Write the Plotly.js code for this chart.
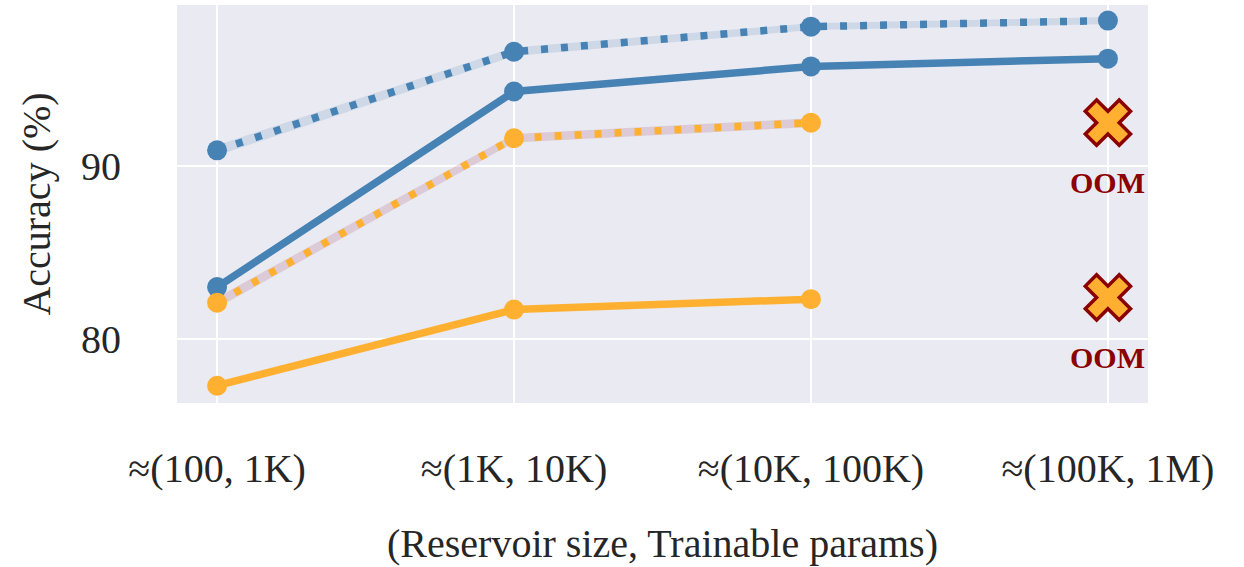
<!DOCTYPE html>
<html><head><meta charset="utf-8">
<script src="https://cdn.plot.ly/plotly-3.0.1.min.js"></script>
<style>body{margin:0;background:#fff}#c{width:1244px;height:567px}</style>
</head><body><div id="c"></div>
<script>
const categories = ["≈(100, 1K)", "≈(1K, 10K)", "≈(10K, 100K)", "≈(100K, 1M)"];
const blueDotted = [90.9, 96.6, 98.05, 98.4];
const blueDottedStd = [0.3, 0.25, 0.2, 0.2];
const blueSolid = [83.0, 94.3, 95.75, 96.2];
const blueSolidStd = [0.12, 0.12, 0.12, 0.12];
const orangeDotted = [82.1, 91.6, 92.5];
const orangeDottedStd = [0.3, 0.25, 0.25];
const orangeSolid = [77.3, 81.7, 82.3];
const orangeSolidStd = [0.12, 0.12, 0.12];
const oomY = [92.5, 82.4];
const oomLabel = "OOM";

const xi = a => a.map((_, i) => i);
function band(vals, std, color) {
  const x = xi(vals);
  return [
    {x: x, y: vals.map((v, i) => v - std[i]), mode: 'lines', line: {width: 0}, hoverinfo: 'skip', showlegend: false},
    {x: x, y: vals.map((v, i) => v + std[i]), mode: 'lines', line: {width: 0}, fill: 'tonexty', fillcolor: color, hoverinfo: 'skip', showlegend: false}
  ];
}
const BLUE = '#4682B4', ORANGE = '#FFB030';
function line(vals, color, dash) {
  return {x: xi(vals), y: vals, mode: 'lines+markers', showlegend: false,
    line: {color: color, width: 7.5, dash: dash},
    marker: {color: color, size: 20}};
}
const data = [
  ...band(blueDotted, blueDottedStd, 'rgba(70,130,180,0.17)'),
  ...band(blueSolid, blueSolidStd, 'rgba(70,130,180,0.17)'),
  ...band(orangeDotted, orangeDottedStd, 'rgba(180,110,130,0.25)'),
  ...band(orangeSolid, orangeSolidStd, 'rgba(180,110,130,0.25)'),
  line(blueDotted, BLUE, '7px,13px'),
  line(blueSolid, BLUE, 'solid'),
  line(orangeDotted, ORANGE, '7px,13px'),
  line(orangeSolid, ORANGE, 'solid'),
  {x: oomY.map(() => 3), y: oomY, mode: 'markers', showlegend: false,
   marker: {symbol: 'x', size: 40, color: ORANGE, line: {color: '#8B0000', width: 3.5}}}
];
const annotations = oomY.map(v => ({x: 3, y: v, xref: 'x', yref: 'y', text: '<b>' + oomLabel + '</b>',
  showarrow: false, yshift: -60, font: {family: 'Liberation Serif', size: 30, color: '#8B0000'}}));

const layout = {
  width: 1244, height: 567,
  margin: {l: 177, r: 96, t: 5, b: 164},
  paper_bgcolor: '#ffffff', plot_bgcolor: '#EAEAF2',
  font: {family: 'Liberation Serif', color: '#262626', size: 40},
  xaxis: {range: [-0.135, 3.135], tickvals: [0, 1, 2, 3], ticktext: categories,
    showgrid: true, gridcolor: '#ffffff', gridwidth: 2, zeroline: false, ticks: '',
    ticklabelstandoff: 38, tickfont: {size: 40},
    title: {text: '(Reservoir size, Trainable params)', font: {size: 40}, standoff: 38}},
  yaxis: {range: [76.3, 99.3], tickvals: [80, 90], showgrid: true, gridcolor: '#ffffff', gridwidth: 2,
    zeroline: false, ticks: '', ticklabelstandoff: 55, tickfont: {size: 40},
    title: {text: 'Accuracy (%)', font: {size: 40}, standoff: 18}},
  annotations: annotations
};
Plotly.newPlot('c', data, layout, {displayModeBar: false, staticPlot: true});
</script></body></html>
